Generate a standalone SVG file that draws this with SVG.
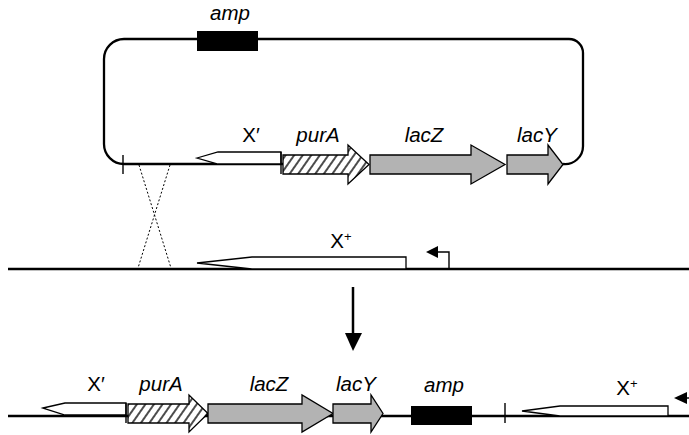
<svg xmlns="http://www.w3.org/2000/svg" width="689" height="435" viewBox="0 0 689 435">
<defs>
<pattern id="hatch" patternUnits="userSpaceOnUse" width="7" height="8" patternTransform="rotate(35)">
<rect width="7" height="8" fill="#fff"/>
<line x1="1" y1="0" x2="1" y2="8" stroke="#000" stroke-width="1.4"/>
</pattern>
</defs>
<style>
.lbl{font-family:"Liberation Sans",Arial,sans-serif;font-size:20.5px;fill:#000;text-anchor:middle}
.it{font-style:italic}
.dna{fill:none;stroke:#000;stroke-width:2.3}
.gray{fill:#b3b3b3;stroke:#000;stroke-width:1.3}
.hat{fill:url(#hatch);stroke:#000;stroke-width:1.3}
.wht{fill:#fff;stroke:#000;stroke-width:1.3}
.blk{fill:#000}
.tick{stroke:#000;stroke-width:1.4}
</style>
<g id="connectors">
<path class="dna" d="M283 164 L124 164 A20 20 0 0 1 104 144 L104 59 A20 20 0 0 1 124 39 L569 39 A14 14 0 0 1 583 53 L583 146 A18 18 0 0 1 563 164"/>
<line x1="8" y1="269" x2="689" y2="269" stroke="#000" stroke-width="2.6"/>
<line x1="8" y1="416" x2="689" y2="416" stroke="#000" stroke-width="2.6"/>
<line x1="139" y1="165" x2="171" y2="268" stroke="#000" stroke-width="1" stroke-dasharray="2 2"/>
<line x1="170" y1="165" x2="138" y2="268" stroke="#000" stroke-width="1" stroke-dasharray="2 2"/>
<line x1="353" y1="287" x2="353" y2="336" stroke="#000" stroke-width="2.5"/>
<polygon class="blk" points="345,333 362,333 353,351"/>
</g>
<g id="plasmid-amp">
<rect class="blk" x="197" y="31" width="61" height="20"/>
<text class="lbl it" x="230" y="20">amp</text>
</g>
<g id="plasmid-xprime">
<line class="tick" x1="123" y1="155" x2="123" y2="174"/>
<polygon class="wht" points="197,158 218,152 281,152 281,164 218,164"/>
<line class="tick" x1="281" y1="152" x2="281" y2="174"/>
<text class="lbl" x="251" y="142">X′</text>
</g>
<g id="plasmid-purA">
<polygon class="hat" points="283,155 348,155 348,145 369,164.5 348,184 348,174 283,174"/>
<text class="lbl it" x="318" y="142">purA</text>
</g>
<g id="plasmid-lacZ">
<polygon class="gray" points="370,155 471,155 471,145 505,164.5 471,184 471,174 370,174"/>
<text class="lbl it" x="424" y="142">lacZ</text>
</g>
<g id="plasmid-lacY">
<polygon class="gray" points="507,155 548,155 548,145 563,164.5 548,184 548,174 507,174"/>
<text class="lbl it" x="537" y="142">lacY</text>
</g>
<g id="chromosome-xplus">
<polygon class="wht" points="197,263 252,257 406,257 406,269 252,269"/>
<text class="lbl" x="341" y="248">X<tspan font-size="13" dy="-7">+</tspan></text>
</g>
<g id="chromosome-promoter">
<polyline points="449,269 449,252 437,252" fill="none" stroke="#000" stroke-width="1.4"/>
<polygon class="blk" points="426,252 438,246 438,258"/>
</g>
<g id="product-xprime">
<polygon class="wht" points="43,408 65,403 126,403 126,415 65,415"/>
<line class="tick" x1="126" y1="403" x2="126" y2="423"/>
<text class="lbl" x="96" y="391">X′</text>
</g>
<g id="product-purA">
<polygon class="hat" points="128,404 189,404 189,395 208,413.5 189,432 189,423 128,423"/>
<text class="lbl it" x="161" y="391">purA</text>
</g>
<g id="product-lacZ">
<polygon class="gray" points="208,404 302,404 302,395 333,413.5 302,432 302,423 208,423"/>
<text class="lbl it" x="269" y="391">lacZ</text>
</g>
<g id="product-lacY">
<polygon class="gray" points="333,404 371,404 371,395 383,413.5 371,432 371,423 333,423"/>
<text class="lbl it" x="356" y="391">lacY</text>
</g>
<g id="product-amp">
<rect class="blk" x="411" y="406" width="61" height="19"/>
<text class="lbl it" x="444" y="392">amp</text>
</g>
<g id="product-xplus">
<line class="tick" x1="505" y1="403" x2="505" y2="423"/>
<polygon class="wht" points="522,411 560,406 668,406 668,416 560,416"/>
<text class="lbl" x="627" y="395">X<tspan font-size="13" dy="-7">+</tspan></text>
</g>
<g id="product-promoter">
<polygon class="blk" points="674,398 687,392 687,404"/>
<line x1="686" y1="398" x2="689" y2="398" stroke="#000" stroke-width="1.4"/>
</g>
</svg>
